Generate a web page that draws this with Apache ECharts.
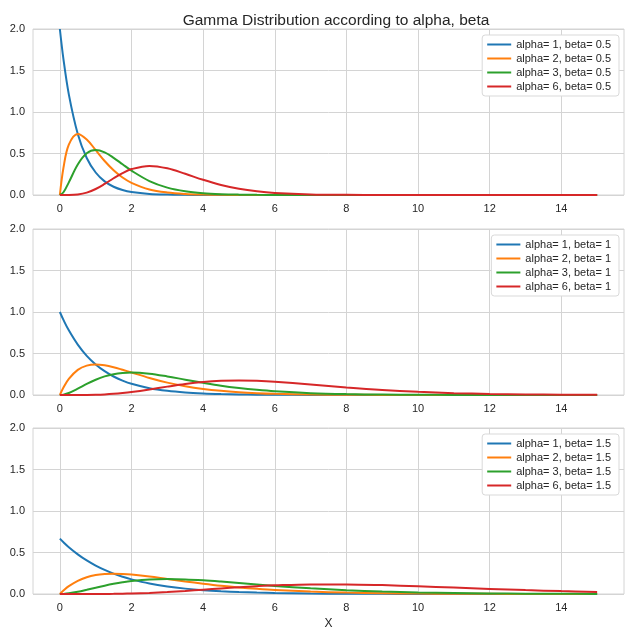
<!DOCTYPE html>
<html>
<head>
<meta charset="utf-8">
<script src="https://cdn.jsdelivr.net/npm/echarts@6/dist/echarts.min.js"></script>
<style>
  html, body { margin: 0; padding: 0; background: #fff; }
  #chart { width: 640px; height: 635px; }
</style>
</head>
<body>
<div id="chart"></div>
<script>
// sample positions along X (shared by every curve)
var xs = [0, 0.1, 0.25, 0.5, 0.75, 1, 1.25, 1.5, 1.75, 2, 2.5, 3, 3.5, 4, 4.5, 5, 5.5, 6, 7, 8, 9, 10, 11, 12, 13, 14, 15];

// beta = 0.5
var a1b05 = [2.0, 1.637, 1.213, 0.736, 0.446, 0.271, 0.164, 0.0996, 0.0604, 0.0366, 0.0135, 0.005, 0.0018, 0.0007, 0.00025, 0.0001, 0, 0, 0, 0, 0, 0, 0, 0, 0, 0, 0];
var a2b05 = [0, 0.327, 0.607, 0.736, 0.669, 0.541, 0.410, 0.299, 0.211, 0.147, 0.067, 0.030, 0.0128, 0.0054, 0.0022, 0.0009, 0.0004, 0.0001, 0, 0, 0, 0, 0, 0, 0, 0, 0];
var a3b05 = [0, 0.0327, 0.152, 0.368, 0.502, 0.541, 0.513, 0.448, 0.370, 0.293, 0.168, 0.089, 0.0447, 0.0215, 0.0100, 0.0045, 0.0020, 0.0009, 0.0002, 0, 0, 0, 0, 0, 0, 0, 0];
var a6b05 = [0, 0, 0.0003, 0.0061, 0.0282, 0.0722, 0.1336, 0.2017, 0.2643, 0.3124, 0.3509, 0.3213, 0.2554, 0.1832, 0.1214, 0.0757, 0.0448, 0.0255, 0.0075, 0.0020, 0.0005, 0.0001, 0, 0, 0, 0, 0];

// beta = 1
var a1b1 = [1.0, 0.905, 0.779, 0.607, 0.472, 0.368, 0.287, 0.223, 0.174, 0.135, 0.082, 0.0498, 0.0302, 0.0183, 0.0111, 0.0067, 0.0041, 0.0025, 0.0009, 0.0003, 0.0001, 0, 0, 0, 0, 0, 0];
var a2b1 = [0, 0.0905, 0.195, 0.303, 0.354, 0.368, 0.358, 0.335, 0.304, 0.271, 0.205, 0.149, 0.106, 0.0733, 0.050, 0.0337, 0.0225, 0.0149, 0.0064, 0.0027, 0.0011, 0.0005, 0.0002, 0.0001, 0, 0, 0];
var a3b1 = [0, 0.0045, 0.0243, 0.0758, 0.133, 0.184, 0.224, 0.251, 0.266, 0.271, 0.257, 0.224, 0.185, 0.147, 0.112, 0.0842, 0.0618, 0.0446, 0.0223, 0.0107, 0.0050, 0.0023, 0.0010, 0.0004, 0.0002, 0.0001, 0];
var a6b1 = [0, 0, 0, 0.0002, 0.0009, 0.0031, 0.0073, 0.0141, 0.0238, 0.0361, 0.0668, 0.1008, 0.1322, 0.1563, 0.1708, 0.1755, 0.1714, 0.1606, 0.1277, 0.0916, 0.0607, 0.0378, 0.0224, 0.0127, 0.0070, 0.0037, 0.0019];

// beta = 1.5
var a1b15 = [0.667, 0.624, 0.564, 0.478, 0.404, 0.342, 0.290, 0.245, 0.208, 0.176, 0.126, 0.0902, 0.0647, 0.0463, 0.0332, 0.0238, 0.0171, 0.0122, 0.0063, 0.0032, 0.0017, 0.0008, 0.0004, 0.0002, 0.0001, 0.0001, 0];
var a2b15 = [0, 0.0416, 0.0941, 0.159, 0.202, 0.228, 0.241, 0.245, 0.242, 0.234, 0.210, 0.180, 0.151, 0.124, 0.0996, 0.0793, 0.0626, 0.0488, 0.0293, 0.0172, 0.0099, 0.0056, 0.0032, 0.0018, 0.0010, 0.0005, 0.0003];
var a3b15 = [0, 0.0014, 0.0078, 0.0265, 0.0505, 0.0761, 0.1006, 0.1226, 0.1413, 0.1562, 0.1749, 0.1804, 0.1760, 0.1647, 0.1494, 0.1322, 0.1147, 0.0976, 0.0684, 0.0458, 0.0298, 0.0188, 0.0117, 0.0071, 0.0043, 0.0026, 0.0015];
var a6b15 = [0, 0, 0, 0, 0.0001, 0.0004, 0.0010, 0.0020, 0.0037, 0.0062, 0.0135, 0.0241, 0.0372, 0.0521, 0.0672, 0.0816, 0.0942, 0.1042, 0.1155, 0.1158, 0.1071, 0.0929, 0.0771, 0.0611, 0.0468, 0.0347, 0.0252];

var xTicks = [0, 2, 4, 6, 8, 10, 12, 14];

var panels = [
  { beta: '0.5', curves: [['1', a1b05], ['2', a2b05], ['3', a3b05], ['6', a6b05]] },
  { beta: '1', curves: [['1', a1b1], ['2', a2b1], ['3', a3b1], ['6', a6b1]] },
  { beta: '1.5', curves: [['1', a1b15], ['2', a2b15], ['3', a3b15], ['6', a6b15]] }
];

var colors = ['#1f77b4', '#ff7f0e', '#2ca02c', '#d62728'];
var gridTops = [29, 229, 428];
var gridHeight = 166;
var textColor = '#262626';
var lineGray = '#d4d4d4';

var chart = echarts.init(document.getElementById('chart'), null, { renderer: 'canvas' });

var grids = [], xAxes = [], yAxes = [], legends = [], series = [];

panels.forEach(function (p, k) {
  grids.push({ left: 33, right: 16, top: gridTops[k], height: gridHeight, show: true, borderColor: lineGray, borderWidth: 1, backgroundColor: '#fff' });

  xAxes.push({
    type: 'value', gridIndex: k, min: -0.75, max: 15.75,
    name: k === 2 ? 'X' : '', nameLocation: 'middle', nameGap: 24,
    nameTextStyle: { color: textColor, fontSize: 12, fontFamily: 'Liberation Sans' },
    axisLine: { show: false },
    axisTick: { show: false, customValues: xTicks },
    axisLabel: { customValues: xTicks, color: textColor, fontSize: 11, margin: 8, fontFamily: 'Liberation Sans' },
    splitLine: { show: true, lineStyle: { color: lineGray, width: 1 } }
  });

  yAxes.push({
    type: 'value', gridIndex: k, min: 0, max: 2, interval: 0.5,
    axisLine: { show: false },
    axisTick: { show: false },
    axisLabel: { color: textColor, fontSize: 11, margin: 8, fontFamily: 'Liberation Sans',
      formatter: function (v) { return v.toFixed(1); } },
    splitLine: { show: true, lineStyle: { color: lineGray, width: 1 } }
  });

  var names = [];
  p.curves.forEach(function (c, i) {
    var name = 'alpha= ' + c[0] + ', beta= ' + p.beta;
    names.push(name);
    series.push({
      name: name, type: 'line', xAxisIndex: k, yAxisIndex: k,
      data: xs.map(function (x, j) { return [x, c[1][j]]; }),
      smooth: 0.35, showSymbol: false, symbol: 'none',
      clip: true, animation: false,
      lineStyle: { color: colors[i], width: 2 },
      itemStyle: { color: colors[i] }
    });
  });

  legends.push({
    data: names, orient: 'vertical', right: 21, top: gridTops[k] + 6,
    itemWidth: 24, itemHeight: 13, itemGap: 3,
    padding: [4, 8, 4, 4],
    itemStyle: { opacity: 0 },
    backgroundColor: '#fff', borderColor: '#d9d9d9', borderWidth: 1, borderRadius: 3,
    textStyle: { color: textColor, fontSize: 11, fontFamily: 'Liberation Sans' }
  });
});

var option = {
  animation: false,
  title: {
    text: 'Gamma Distribution according to alpha, beta',
    left: 331, top: 8, textAlign: 'center',
    textStyle: { color: textColor, fontSize: 15.5, fontWeight: 'normal', fontFamily: 'Liberation Sans' }
  },
  grid: grids,
  xAxis: xAxes,
  yAxis: yAxes,
  legend: legends,
  series: series
};

chart.setOption(option);
</script>
</body>
</html>
